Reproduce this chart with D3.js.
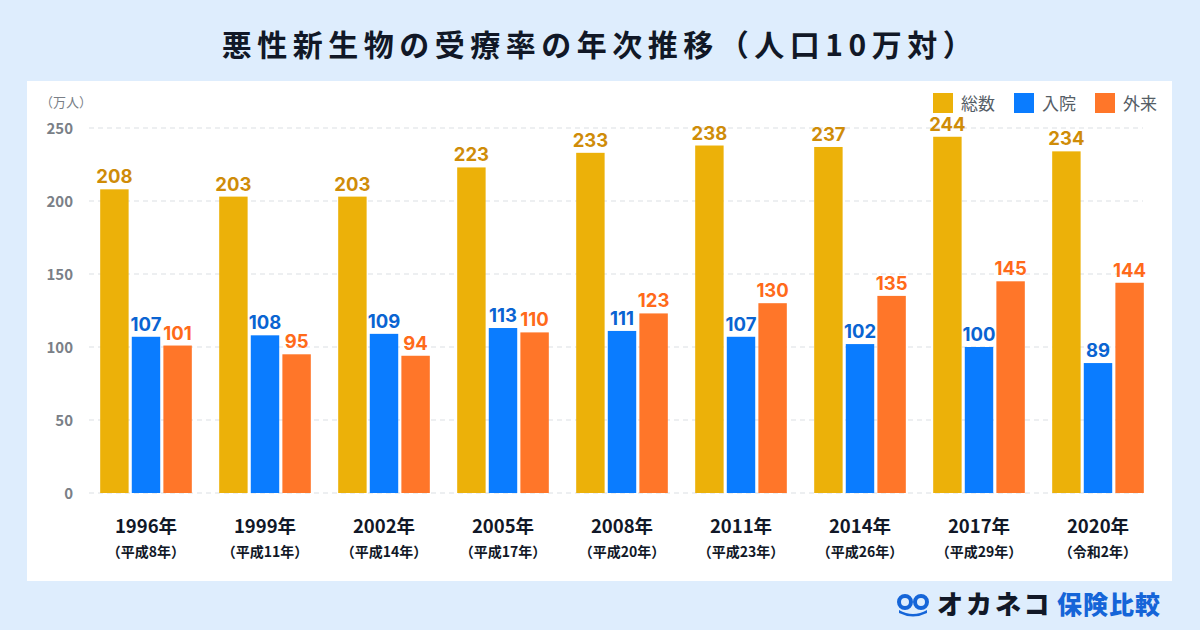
<!DOCTYPE html>
<html><head><meta charset="utf-8">
<script src="https://cdn.jsdelivr.net/npm/d3@7"></script>
<style>
html,body{margin:0;padding:0;background:#deedfd;}
svg{display:block;font-family:"Noto Sans CJK JP","Noto Sans",sans-serif;}
</style></head>
<body>
<svg id="c" width="1200" height="630"></svg>
<script>
const years = ["1996年","1999年","2002年","2005年","2008年","2011年","2014年","2017年","2020年"];
const eras = ["（平成8年）","（平成11年）","（平成14年）","（平成17年）","（平成20年）","（平成23年）","（平成26年）","（平成29年）","（令和2年）"];
const seriesNames = ["総数","入院","外来"];
const total = [208,203,203,223,233,238,237,244,234];
const inpatient = [107,108,109,113,111,107,102,100,89];
const outpatient = [101,95,94,110,123,130,135,145,144];
const yTicks = [0,50,100,150,200,250];

const barColors = ["#ecb109","#0a7cff","#ff7629"];
const labelColors = ["#cf8c08","#0a64d2","#ff6a1a"];
const seriesData = [total, inpatient, outpatient];

const svg = d3.select("#c");
svg.append("rect").attr("x",0).attr("y",0).attr("width",1200).attr("height",630).attr("fill","#deedfd");
svg.append("rect").attr("x",27).attr("y",81).attr("width",1145).attr("height",500).attr("fill","#ffffff");

svg.append("text").attr("x",600).attr("y",56).attr("text-anchor","middle")
  .attr("font-size",30).attr("font-weight",700).attr("fill","#111827").attr("letter-spacing",5.5)
  .text("悪性新生物の受療率の年次推移（人口10万対）");

const y = d3.scaleLinear().domain([0,250]).range([493,128]);
const x0 = d3.scaleBand().domain(years).range([86.5,1157.5]).paddingInner(0.23).paddingOuter(0.115);
const x1 = d3.scaleBand().domain(seriesNames).range([0,x0.bandwidth()]).paddingInner(0.1);

// grid
const g = svg.append("g");
g.selectAll("line.grid").data(yTicks).join("line")
  .attr("x1",89).attr("x2",1143).attr("y1",d=>y(d)).attr("y2",d=>y(d))
  .attr("stroke","#dcdfe4").attr("stroke-width",1.2).attr("stroke-dasharray","5,4");

const yAxis = d3.axisLeft(y).tickValues(yTicks).tickSize(0).tickPadding(0);
const ya = svg.append("g").attr("transform","translate(73,0)").call(yAxis);
ya.select(".domain").remove();
ya.selectAll("text").attr("font-size",15).attr("font-weight",700).attr("fill","#7a7f87")
  .attr("font-family","'Noto Sans CJK JP',sans-serif").attr("dy","0.35em");

svg.append("text").attr("x",40).attr("y",107).attr("font-size",13).attr("fill","#7a7f87").text("（万人）");

// bars
const groups = svg.append("g").selectAll("g").data(years).join("g")
  .attr("transform",d=>`translate(${x0(d)},0)`);
seriesNames.forEach((s,si)=>{
  groups.append("rect")
    .attr("x",x1(s)).attr("width",x1.bandwidth())
    .attr("y",(d,i)=>y(seriesData[si][i]))
    .attr("height",(d,i)=>y(0)-y(seriesData[si][i]))
    .attr("fill",barColors[si]);
  groups.append("text")
    .attr("x",x1(s)+x1.bandwidth()/2)
    .attr("y",(d,i)=>y(seriesData[si][i])-6)
    .attr("text-anchor","middle").attr("font-size",18.5).attr("font-weight",700)
    .attr("fill",labelColors[si])
    .attr("font-family","Inter,'Noto Sans',sans-serif")
    .text((d,i)=>seriesData[si][i]);
});

// x labels
const xAxis = d3.axisBottom(x0).tickSize(0).tickPadding(0);
const xa = svg.append("g").attr("transform","translate(0,533)").call(xAxis);
xa.select(".domain").remove();
xa.selectAll("text").attr("font-size",18.5).attr("font-weight",700).attr("fill","#111827").attr("dy",0)
  .attr("font-family","'Noto Sans CJK JP',sans-serif");
svg.append("g").selectAll("text").data(years).join("text")
  .attr("x",d=>x0(d)+x0.bandwidth()/2).attr("y",557).attr("text-anchor","middle")
  .attr("font-size",14).attr("font-weight",700).attr("fill","#111827")
  .text((d,i)=>eras[i]);

// legend
const legX = [933,1014,1095];
seriesNames.forEach((s,i)=>{
  svg.append("rect").attr("x",legX[i]).attr("y",93).attr("width",20).attr("height",20).attr("fill",barColors[i]);
  svg.append("text").attr("x",legX[i]+28).attr("y",109.5).attr("font-size",17).attr("fill","#555d66").text(s);
});

// logo
const lg = svg.append("g").attr("transform","translate(897,592)");
lg.append("circle").attr("cx",8).attr("cy",10).attr("r",6).attr("fill","none").attr("stroke","#1565d8").attr("stroke-width",4);
lg.append("circle").attr("cx",24).attr("cy",10).attr("r",6).attr("fill","none").attr("stroke","#1565d8").attr("stroke-width",4);
lg.append("path").attr("d","M2,18 Q16,26 30,18 L30,21 Q16,28 2,21 Z").attr("fill","#1565d8");
lg.append("text").attr("x",40).attr("y",22).attr("font-size",26).attr("font-weight",900).attr("fill","#111827").attr("letter-spacing",3).text("オカネコ");
lg.append("text").attr("x",160).attr("y",22).attr("font-size",25).attr("font-weight",900).attr("fill","#1565d8").attr("letter-spacing",1).text("保険比較");
</script>
</body></html>
